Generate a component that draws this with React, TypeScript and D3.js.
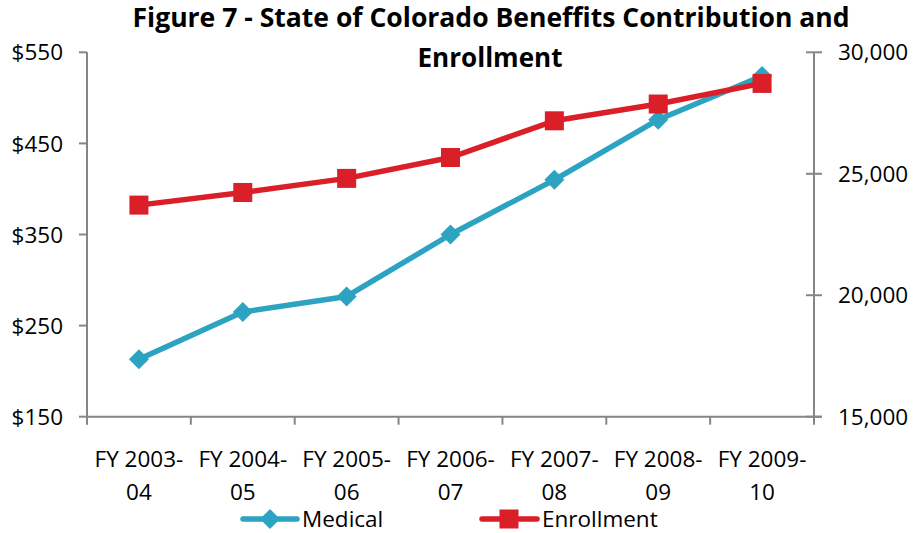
import React from "react";
import * as d3 from "d3";

const categories = [
  ["FY 2003-", "04"],
  ["FY 2004-", "05"],
  ["FY 2005-", "06"],
  ["FY 2006-", "07"],
  ["FY 2007-", "08"],
  ["FY 2008-", "09"],
  ["FY 2009-", "10"],
];
const medical = [213, 265, 282, 350, 410, 476, 524];
const enrollment = [23710, 24230, 24810, 25670, 27180, 27870, 28720];
const leftTicks = [150, 250, 350, 450, 550];
const rightTicks = [15000, 20000, 25000, 30000];
const titleLines = ["Figure 7 - State of Colorado Beneffits Contribution and", "Enrollment"];

const W = 915;
const H = 533;
const M = { left: 87, right: 814, top: 52.3, bottom: 416.7 };
const FONT = "'Open Sans', 'Noto Sans', sans-serif";
const TEAL = "#2DA3C2";
const RED = "#DA1F28";
const AXIS = "#868686";
const FS = 22.5;

export default function App() {
  const x = d3
    .scaleBand<number>()
    .domain(categories.map((_, i) => i))
    .range([M.left, M.right]);
  const yL = d3.scaleLinear().domain([150, 550]).range([M.bottom, M.top]);
  const yR = d3.scaleLinear().domain([15000, 30000]).range([M.bottom, M.top]);
  const cx = (i: number) => (x(i) as number) + x.bandwidth() / 2;

  const medLine = d3
    .line<number>()
    .x((_, i) => cx(i))
    .y((d) => yL(d))(medical) as string;
  const enrLine = d3
    .line<number>()
    .x((_, i) => cx(i))
    .y((d) => yR(d))(enrollment) as string;

  const diamond = (px: number, py: number, r: number) =>
    `M${px},${py - r}L${px + r},${py}L${px},${py + r}L${px - r},${py}Z`;
  const sq = 19;

  const boundaries = d3.range(categories.length + 1).map((i) =>
    i < categories.length ? (x(i) as number) : M.right
  );

  return (
    <svg
      width={W}
      height={H}
      style={{ position: "absolute", left: 0, top: 0, background: "#fff" }}
      fontFamily={FONT}
    >
      {/* title */}
      <text
        x={491}
        y={27}
        textAnchor="middle"
        fontWeight="bold"
        fontSize={26}
        textLength={717}
        lengthAdjust="spacingAndGlyphs"
        fill="#000"
      >
        {titleLines[0]}
      </text>
      <text
        x={490}
        y={67}
        textAnchor="middle"
        fontWeight="bold"
        fontSize={26}
        textLength={145}
        lengthAdjust="spacingAndGlyphs"
        fill="#000"
      >
        {titleLines[1]}
      </text>

      {/* left axis */}
      <line x1={M.left} x2={M.left} y1={M.top} y2={M.bottom} stroke={AXIS} strokeWidth={2} />
      {leftTicks.map((t) => (
        <g key={t}>
          <line x1={M.left - 8} x2={M.left} y1={yL(t)} y2={yL(t)} stroke={AXIS} strokeWidth={2} />
          <text x={63} y={yL(t)} dy="0.36em" textAnchor="end" fontSize={FS} fill="#000">
            {"$" + d3.format("d")(t)}
          </text>
        </g>
      ))}

      {/* right axis */}
      <line x1={M.right} x2={M.right} y1={M.top} y2={M.bottom} stroke={AXIS} strokeWidth={2} />
      {rightTicks.map((t) => (
        <g key={t}>
          <line x1={M.right - 8} x2={M.right + 8} y1={yR(t)} y2={yR(t)} stroke={AXIS} strokeWidth={2} />
          <text x={838} y={yR(t)} dy="0.36em" textAnchor="start" fontSize={FS} fill="#000">
            {d3.format(",")(t)}
          </text>
        </g>
      ))}

      {/* bottom axis */}
      <line x1={M.left} x2={M.right + 8} y1={M.bottom} y2={M.bottom} stroke={AXIS} strokeWidth={2} />
      {boundaries.map((b, i) => (
        <line key={i} x1={b} x2={b} y1={M.bottom} y2={M.bottom + 8} stroke={AXIS} strokeWidth={2} />
      ))}
      {categories.map((c, i) => (
        <text key={i} x={cx(i)} textAnchor="middle" fontSize={FS} fill="#000">
          <tspan x={cx(i)} y={467}>
            {c[0]}
          </tspan>
          <tspan x={cx(i)} y={500}>
            {c[1]}
          </tspan>
        </text>
      ))}

      {/* series */}
      <path d={medLine} fill="none" stroke={TEAL} strokeWidth={5.5} strokeLinejoin="round" />
      {medical.map((d, i) => (
        <path key={i} d={diamond(cx(i), yL(d), 10)} fill={TEAL} />
      ))}
      <path d={enrLine} fill="none" stroke={RED} strokeWidth={5.5} strokeLinejoin="round" />
      {enrollment.map((d, i) => (
        <rect key={i} x={cx(i) - sq / 2} y={yR(d) - sq / 2} width={sq} height={sq} fill={RED} />
      ))}

      {/* legend */}
      <g>
        <line x1={243} x2={297} y1={519} y2={519} stroke={TEAL} strokeWidth={5.5} strokeLinecap="round" />
        <path d={diamond(270, 519, 10)} fill={TEAL} />
        <text x={302} y={527} fontSize={FS} fill="#000">
          Medical
        </text>
        <line x1={482} x2={537} y1={519} y2={519} stroke={RED} strokeWidth={5.5} strokeLinecap="round" />
        <rect x={509 - sq / 2} y={519 - sq / 2} width={sq} height={sq} fill={RED} />
        <text x={542} y={527} fontSize={FS} fill="#000">
          Enrollment
        </text>
      </g>
    </svg>
  );
}
